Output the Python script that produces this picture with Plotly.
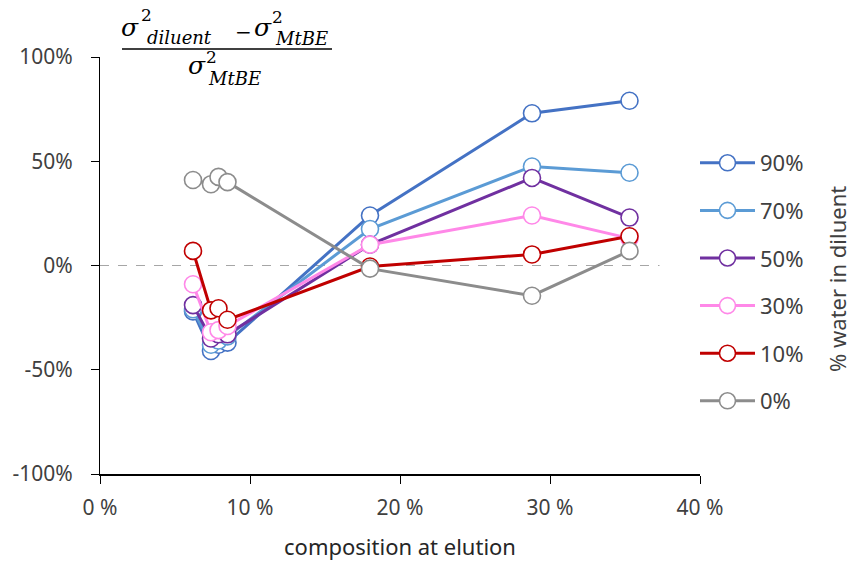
import plotly.graph_objects as go

# composition at elution (%), shared by every series
composition = [6.2, 7.4, 7.9, 8.5, 18.0, 28.8, 35.3]

# relative variance change (%) for each water fraction in the diluent
water_90 = [-22, -41, -38, -37, 24, 73, 79]
water_70 = [-21, -38, -36, -34, 17.5, 47.5, 44.5]
water_50 = [-19, -35, -33, -33, 10, 42, 23]
water_30 = [-9, -32, -31, -29, 10, 24, 13]
water_10 = [7, -21.5, -20.5, -26, -0.5, 5.3, 14]
water_0 = [41, 39, 42.5, 40, -1.5, -14.5, 7]

series_names = ["90%", "70%", "50%", "30%", "10%", "0%"]
series_values = [water_90, water_70, water_50, water_30, water_10, water_0]
series_colors = ["#4472C4", "#5B9BD5", "#7030A0", "#FF88E8", "#C00000", "#8C8C8C"]

# zero reference line
zero_x = [0, 37.3]
zero_y = [0, 0]

x_ticks = [0, 10, 20, 30, 40]
x_ticktext = ["0 %", "10 %", "20 %", "30 %", "40 %"]
y_ticks = [-100, -50, 0, 50, 100]
y_ticktext = ["-100%", "-50%", "0%", "50%", "100%"]

W, H = 854, 566
L, R, T, B = 100, 154, 57, 92
PW, PH = W - L - R, H - T - B

fig = go.Figure()

fig.add_trace(go.Scatter(
    x=zero_x, y=zero_y, mode="lines", showlegend=False, hoverinfo="skip",
    line=dict(color="#A6A6A6", width=1.2, dash="dash"),
))

for i, (name, vals, col) in enumerate(zip(series_names, series_values, series_colors)):
    fig.add_trace(go.Scatter(
        x=composition, y=vals, name=name, mode="lines+markers",
        legendgroup=f"g{i}",
        line=dict(color=col, width=3),
        marker=dict(symbol="circle", size=17, color="white",
                    line=dict(color=col, width=1.6)),
    ))

TICK_FONT = dict(family="Noto Sans", size=21, color="#404040")

fig.update_layout(
    width=W, height=H,
    margin=dict(l=L, r=R, t=T, b=B, pad=0),
    paper_bgcolor="white", plot_bgcolor="white",
    showlegend=True,
    legend=dict(
        x=(695 - L) / PW, y=1 - (142 - T) / PH, xanchor="left", yanchor="top",
        font=dict(family="Noto Sans", size=22, color="#404040"),
        itemwidth=55, tracegroupgap=16, bgcolor="rgba(0,0,0,0)",
    ),
    xaxis=dict(
        range=[0, 40], tickvals=x_ticks, ticktext=x_ticktext,
        showgrid=False, zeroline=False, automargin=False,
        showline=True, linecolor="black", linewidth=1.5,
        ticks="outside", ticklen=8, tickcolor="black", tickwidth=1.2,
        tickfont=TICK_FONT, ticklabelstandoff=6,
        title=dict(text="composition at elution",
                   font=dict(family="Noto Sans", size=22, color="#262626"),
                   standoff=20),
    ),
    yaxis=dict(
        range=[-100, 100], tickvals=y_ticks, ticktext=y_ticktext,
        showgrid=False, zeroline=False, automargin=False,
        showline=True, linecolor="black", linewidth=1.2,
        ticks="outside", ticklen=8, tickcolor="black", tickwidth=1.2,
        tickfont=TICK_FONT, ticklabelstandoff=14,
    ),
)


def px(xp, yp):
    return (xp - L) / PW, 1 - (yp - T) / PH


def label(text, xp, yp, size, italic=True):
    x, y = px(xp, yp)
    fig.add_annotation(
        x=x, y=y, xref="paper", yref="paper", xanchor="center", yanchor="middle",
        text=f"<i>{text}</i>" if italic else text, showarrow=False,
        font=dict(family="DejaVu Serif", size=size, color="black"),
    )


# fraction of variances shown above the y axis
label("σ", 130, 27, 25)
label("2", 146, 15, 17, italic=False)
label("diluent", 179, 37, 18)
label("−", 243, 32, 20, italic=False)
label("σ", 263, 27, 25)
label("2", 277, 17, 17, italic=False)
label("MtBE", 301, 38, 18)
label("σ", 197, 65, 25)
label("2", 211, 57, 17, italic=False)
label("MtBE", 234, 78, 18)

lx0, ly = px(122, 49)
lx1, _ = px(332, 49)
fig.add_shape(type="line", xref="paper", yref="paper",
              x0=lx0, x1=lx1, y0=ly, y1=ly, line=dict(color="black", width=1.5))

# legend heading, rotated
tx, ty = px(837, 279)
fig.add_annotation(
    x=tx, y=ty, xref="paper", yref="paper", xanchor="center", yanchor="middle",
    text="% water in diluent", textangle=-90, showarrow=False,
    font=dict(family="Noto Sans", size=22, color="#404040"),
)

fig.write_html("out.html")
